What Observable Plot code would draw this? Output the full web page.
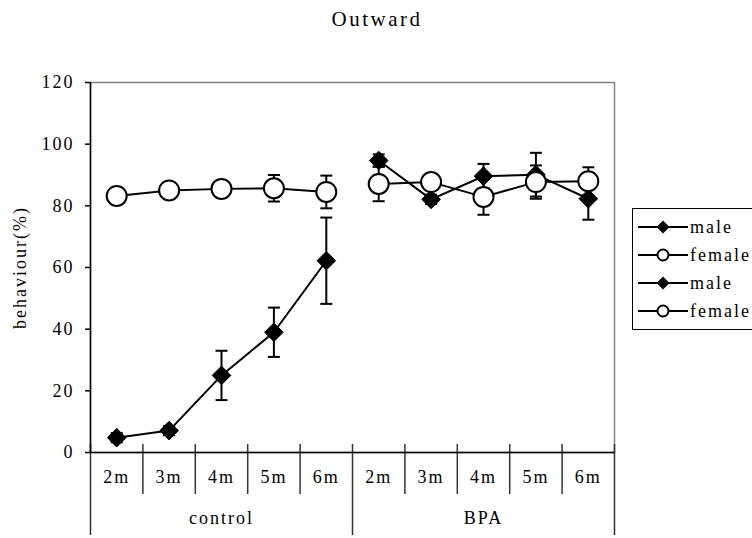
<!DOCTYPE html>
<html>
<head>
<meta charset="utf-8">
<script src="https://cdn.jsdelivr.net/npm/d3@7"></script>
<script src="https://cdn.jsdelivr.net/npm/@observablehq/plot@0.6"></script>
<style>
  html, body { margin: 0; padding: 0; background: #fff; }
  #wrap { position: relative; width: 752px; height: 538px; overflow: hidden; font-family: "Liberation Serif", serif; color: #000; }
  #title { position: absolute; left: 0; top: 7px; width: 754px; text-align: center; font-size: 21px; letter-spacing: 2.5px; font-family: "Liberation Serif", serif; }
  #legend { position: absolute; left: 632px; top: 208px; width: 130px; border: 1px solid #000; background: #fff; padding: 4px 0 4px 0; box-sizing: border-box; }
  .row { display: flex; align-items: center; height: 28px; font-size: 18px; letter-spacing: 2px; font-family: "Liberation Serif", serif; }
  .row svg { margin-left: 5px; margin-right: 2px; }
  #chart svg { display: block; }
</style>
</head>
<body>
<div id="wrap">
  <div id="chart"></div>
  <div id="title"></div>
  <div id="legend"></div>
</div>
<script>
// ---- data ----
const title = "Outward";
const yLabel = "behaviour(%)";
const groups = ["control", "BPA"];
const months = ["2m", "3m", "4m", "5m", "6m"];
const yTicks = [0, 20, 40, 60, 80, 100, 120];

const maleControl      = [4.8, 7.1, 25, 39, 62.2];
const maleControlErr   = [1.5, 1.5, 8, 8, 14];
const femaleControl    = [83.2, 85, 85.5, 85.7, 84.5];
const femaleControlErr = [1.5, 1.5, 1.5, 4.3, 5.3];
const maleBPA          = [94.7, 82.1, 89.6, 90.1, 82.3];
const maleBPAErr       = [2, 1.5, 4, 7.1, 6.8];
const femaleBPA        = [87.1, 87.7, 82.9, 87.7, 88];
const femaleBPAErr     = [5.6, 2, 5.8, 5.4, 4.5];

const legendLabels = ["male", "female", "male", "female"];
const legendSex    = ["male", "female", "male", "female"];

// ---- build table ----
const seriesDefs = [
  {group: "control", sex: "male",   values: maleControl,   errs: maleControlErr},
  {group: "control", sex: "female", values: femaleControl, errs: femaleControlErr},
  {group: "BPA",     sex: "male",   values: maleBPA,       errs: maleBPAErr},
  {group: "BPA",     sex: "female", values: femaleBPA,     errs: femaleBPAErr}
];
const pos = (g, m) => groups.indexOf(g) * months.length + months.indexOf(m) + 0.5;

const cats = groups.flatMap(g => months.map(m => ({group: g, month: m})));
const edges = d3.range(0, groups.length * months.length + 1);
const groupEdges = edges.filter(e => e % months.length === 0);
const innerEdges = edges.filter(e => e % months.length !== 0);

const FONT = "Liberation Serif";
const cap = { draw(ctx) { ctx.moveTo(-6, 0); ctx.lineTo(6, 0); } };

const seriesMarks = seriesDefs.flatMap(s => {
  const rows = months.map((m, i) => ({group: s.group, month: m, value: s.values[i], err: s.errs[i]}));
  const x = d => pos(d.group, d.month);
  const dotOpts = s.sex === "male"
    ? {symbol: "diamond2", r: 8.4, fill: "black", stroke: "black", strokeWidth: 1}
    : {symbol: "circle", r: 10, fill: "white", stroke: "black", strokeWidth: 2};
  return [
    Plot.ruleX(rows, {x, y1: d => d.value - d.err, y2: d => d.value + d.err, stroke: "black", strokeWidth: 2}),
    Plot.dot(rows, {x, y: d => d.value + d.err, symbol: cap, r: 1, stroke: "black", strokeWidth: 2}),
    Plot.dot(rows, {x, y: d => d.value - d.err, symbol: cap, r: 1, stroke: "black", strokeWidth: 2}),
    Plot.line(rows, {x, y: "value", stroke: "black", strokeWidth: 2}),
    Plot.dot(rows, {x, y: "value", ...dotOpts})
  ];
});

const chart = Plot.plot({
  width: 752,
  height: 538,
  marginLeft: 90,
  marginRight: 138,
  marginTop: 82,
  marginBottom: 86,
  style: {fontFamily: FONT, fontSize: "18px", letterSpacing: "2px", color: "black", background: "white", overflow: "visible"},
  x: {domain: [0, groups.length * months.length], axis: null},
  y: {domain: [0, 120], axis: null},
  marks: [
    Plot.frame({stroke: "#808080", strokeWidth: 1.5}),
    Plot.axisY({ticks: yTicks, tickSize: 5, tickPadding: 11, tickFormat: d => String(d), fontSize: 18, fontFamily: FONT, stroke: "black", strokeWidth: 1.5, label: null}),
    Plot.ruleX(innerEdges, {x: d => d, y1: () => 0, y2: () => 0, insetTop: -8, insetBottom: -42, stroke: "#333", strokeWidth: 1.5}),
    Plot.ruleX(groupEdges, {x: d => d, y1: () => 0, y2: () => 0, insetTop: -8, insetBottom: -83, stroke: "#333", strokeWidth: 1.5}),
    Plot.ruleX([0], {stroke: "black", strokeWidth: 1.5}),
    Plot.ruleY([0], {stroke: "black", strokeWidth: 1.5}),
    Plot.text(cats, {x: d => pos(d.group, d.month), frameAnchor: "bottom", dy: 30, text: "month", fontSize: 18, fontFamily: FONT}),
    Plot.text(groups, {x: g => groups.indexOf(g) * months.length + months.length / 2, frameAnchor: "bottom", dy: 71, text: d => d, fontSize: 18, fontFamily: FONT}),
    Plot.text([yLabel], {frameAnchor: "left", textAnchor: "middle", rotate: -90, dx: -70, text: d => d, fontSize: 18, fontFamily: FONT}),
    ...seriesMarks
  ]
});
document.getElementById("chart").appendChild(chart);
document.getElementById("title").textContent = title;

// ---- legend ----
const legend = document.getElementById("legend");
legendLabels.forEach((lab, i) => {
  const row = document.createElement("div");
  row.className = "row";
  const ns = "http://www.w3.org/2000/svg";
  const svg = document.createElementNS(ns, "svg");
  svg.setAttribute("width", 50); svg.setAttribute("height", 16);
  const line = document.createElementNS(ns, "line");
  line.setAttribute("x1", 0); line.setAttribute("x2", 50); line.setAttribute("y1", 8); line.setAttribute("y2", 8);
  line.setAttribute("stroke", "black"); line.setAttribute("stroke-width", 2);
  svg.appendChild(line);
  if (legendSex[i] === "male") {
    const p = document.createElementNS(ns, "path");
    p.setAttribute("d", "M25,1.5L31.5,8L25,14.5L18.5,8Z");
    p.setAttribute("fill", "black");
    svg.appendChild(p);
  } else {
    const c = document.createElementNS(ns, "circle");
    c.setAttribute("cx", 25); c.setAttribute("cy", 8); c.setAttribute("r", 5.5);
    c.setAttribute("fill", "white"); c.setAttribute("stroke", "black"); c.setAttribute("stroke-width", 2);
    svg.appendChild(c);
  }
  row.appendChild(svg);
  const span = document.createElement("span");
  span.textContent = lab;
  row.appendChild(span);
  legend.appendChild(row);
});
</script>
</body>
</html>
